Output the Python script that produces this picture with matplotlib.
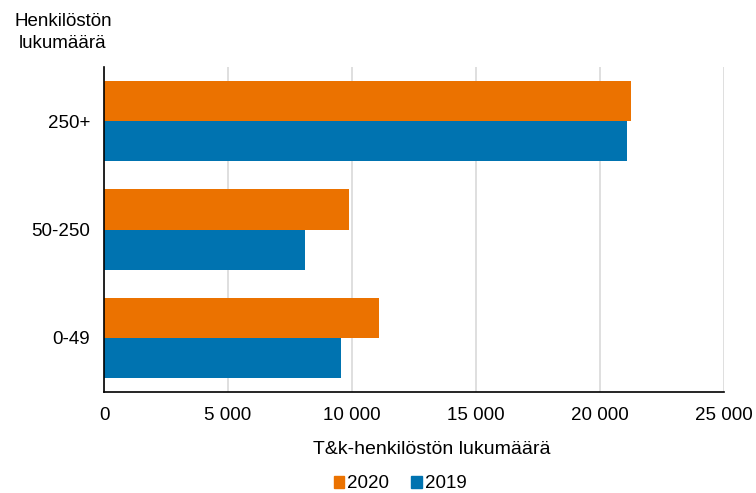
import matplotlib
matplotlib.use("Agg")
import matplotlib.pyplot as plt
from matplotlib.ticker import FuncFormatter, MultipleLocator
from matplotlib.patches import Patch

categories = ["0-49", "50-250", "250+"]
values_2020 = [11090, 9860, 21270]
values_2019 = [9540, 8110, 21070]
series_names = ["2020", "2019"]
colors = ["#EB7200", "#0073B0"]

plt.rcParams['font.family'] = ['Liberation Sans', 'DejaVu Sans']
fs = 13.5

fig = plt.figure(figsize=(7.56, 4.93), dpi=100)
ax = fig.add_axes([104/756, 1-392/493, (724-104)/756, (392-67)/493])

h = 0.37
y = list(range(len(categories)))
ax.barh([i + h/2 for i in y], values_2020, height=h, color=colors[0], zorder=3)
ax.barh([i - h/2 for i in y], values_2019, height=h, color=colors[1], zorder=3)

ax.set_xlim(0, 25000)
ax.set_ylim(-0.5, 2.5)
ax.xaxis.set_major_locator(MultipleLocator(5000))
ax.xaxis.set_major_formatter(FuncFormatter(lambda v, p: f"{int(v):,}".replace(",", " ")))
ax.set_yticks(y)
ax.set_yticklabels(categories)
ax.tick_params(axis='both', length=0, labelsize=fs, colors='#000000')
ax.tick_params(axis='x', pad=11)
ax.tick_params(axis='y', pad=10)
ax.grid(axis='x', color='#d9d9d9', linewidth=1.2, zorder=0)
for s in ['top', 'right']:
    ax.spines[s].set_visible(False)
for s in ['left', 'bottom']:
    ax.spines[s].set_color('#000000')
    ax.spines[s].set_linewidth(1.2)
    ax.spines[s].set_zorder(4)

ax.set_xlabel("T&k-henkilöstön lukumäärä", fontsize=14)
ax.xaxis.set_label_coords((432-104)/(724-104), -0.15)
ax.xaxis.label.set_verticalalignment('top')
fig.text(63/756, 1-13/493, "Henkilöstön\nlukumäärä", fontsize=fs, ha='center', va='top', linespacing=1.4)

handles = [Patch(color=colors[0]), Patch(color=colors[1])]
fig.legend(handles, series_names, loc='center', bbox_to_anchor=(400/756, 1-484/493), ncol=2,
           frameon=False, fontsize=fs, handlelength=0.55, handleheight=0.55, handletextpad=0.15,
           columnspacing=1.2, borderpad=0.1)

fig.savefig("out.png", dpi=100)
